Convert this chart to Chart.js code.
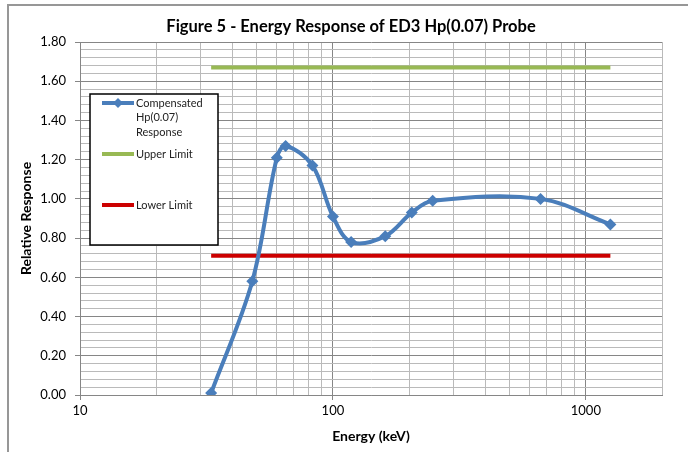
<!DOCTYPE html>
<html>
<head>
<meta charset="utf-8">
<script src="https://cdn.jsdelivr.net/npm/chart.js@4.4.1/dist/chart.umd.min.js"></script>
<style>
  html, body { margin: 0; padding: 0; background: #fff; }
  #wrap { position: relative; width: 688px; height: 452px; overflow: hidden; }
  #frame { position: absolute; left: 7px; top: 4px; width: 720px; height: 500px; border: 2px solid #979797; box-sizing: border-box; }
  #chart { position: absolute; left: 0; top: 0; }
</style>
</head>
<body>
<div id="wrap">
  <div id="frame"></div>
  <canvas id="chart" width="688" height="452"></canvas>
</div>
<script>
// data
const energies = [33, 48, 60, 65, 83, 100, 118, 161, 205, 248, 662, 1250];
const response = [0.01, 0.58, 1.21, 1.27, 1.17, 0.91, 0.78, 0.81, 0.93, 0.99, 1.00, 0.87];
const limitEnergies = [33, 1250];
const upperLimit = [1.67, 1.67];
const lowerLimit = [0.71, 0.71];

// axes
const xLabelled = [10, 100, 1000];
const xGridValues = [10, 20, 30, 40, 50, 60, 70, 80, 90, 100, 200, 300, 400, 500, 600, 700, 800, 900, 1000, 2000];
const yTickLabels = ["0.00", "0.20", "0.40", "0.60", "0.80", "1.00", "1.20", "1.40", "1.60", "1.80"];

const FONT = "Lato, 'Open Sans', sans-serif";
const MAJOR = "#868686";
const MINOR = "#bababa";

const toXY = (xs, ys) => xs.map((x, i) => ({ x, y: ys[i] }));

// y grid every 0.04, labels every 0.2
const yGrid = [];
for (let i = 0; i <= 45; i++) yGrid.push(Math.round(i * 4) / 100);
const isYMajor = (v) => Math.abs(v * 5 - Math.round(v * 5)) < 1e-6;

// title + legend box drawn on top
const overlay = {
  id: "overlay",
  afterDraw(chart) {
    const ctx = chart.ctx;
    ctx.save();
    ctx.fillStyle = "#000";
    ctx.font = "bold 16.5px " + FONT;
    ctx.textAlign = "center";
    ctx.textBaseline = "middle";
    ctx.fillText("Figure 5 - Energy Response of ED3 Hp(0.07) Probe", 351, 27);

    // legend
    ctx.fillStyle = "#fff";
    ctx.fillRect(90, 94, 128, 151);
    ctx.strokeStyle = "#000";
    ctx.lineWidth = 1.5;
    ctx.strokeRect(90, 94, 128, 151);

    const items = [
      { color: "#4a7ebb", lines: ["Compensated", "Hp(0.07)", "Response"], y: 103, marker: true },
      { color: "#98b954", lines: ["Upper Limit"], y: 154 },
      { color: "#cc0000", lines: ["Lower Limit"], y: 205 }
    ];
    ctx.font = "11px " + FONT;
    ctx.textAlign = "left";
    items.forEach((it) => {
      ctx.strokeStyle = it.color;
      ctx.lineWidth = 4;
      ctx.beginPath();
      ctx.moveTo(102, it.y);
      ctx.lineTo(134, it.y);
      ctx.stroke();
      if (it.marker) {
        ctx.fillStyle = it.color;
        ctx.beginPath();
        ctx.moveTo(118, it.y - 5);
        ctx.lineTo(123, it.y);
        ctx.lineTo(118, it.y + 5);
        ctx.lineTo(113, it.y);
        ctx.closePath();
        ctx.fill();
      }
      ctx.fillStyle = "#222";
      it.lines.forEach((t, k) => ctx.fillText(t, 136, it.y + k * 14.7));
    });
    ctx.restore();
  }
};

new Chart(document.getElementById("chart"), {
  type: "line",
  data: {
    datasets: [
      {
        label: "Compensated Hp(0.07) Response",
        data: toXY(energies, response),
        borderColor: "#4a7ebb",
        backgroundColor: "#4a7ebb",
        borderWidth: 4,
        tension: 0.35,
        pointStyle: "rectRot",
        pointRadius: 6,
        pointBorderWidth: 0,
        order: 0
      },
      {
        label: "Upper Limit",
        data: toXY(limitEnergies, upperLimit),
        borderColor: "#98b954",
        borderWidth: 4,
        pointRadius: 0,
        order: 1
      },
      {
        label: "Lower Limit",
        data: toXY(limitEnergies, lowerLimit),
        borderColor: "#cc0000",
        borderWidth: 4,
        pointRadius: 0,
        order: 2
      }
    ]
  },
  options: {
    responsive: false,
    animation: false,
    layout: { padding: { top: 42, right: 26, left: 0, bottom: 0 } },
    plugins: {
      legend: { display: false },
      title: { display: false },
      tooltip: { enabled: false }
    },
    scales: {
      x: {
        type: "logarithmic",
        min: 10,
        max: 2000,
        afterBuildTicks: (s) => { s.ticks = xGridValues.map((v) => ({ value: v })); },
        afterFit: (s) => { s.height = 57; },
        ticks: {
          autoSkip: false,
          maxRotation: 0,
          padding: 3,
          color: "#000",
          font: { family: FONT, size: 13 },
          callback: (v) => (xLabelled.includes(v) ? String(v) : "")
        },
        grid: {
          color: (c) => (xLabelled.includes(c.tick.value) ? MAJOR : MINOR),
          tickColor: (c) => (xLabelled.includes(c.tick.value) ? MAJOR : "rgba(0,0,0,0)"),
          tickLength: 5,
          lineWidth: 1
        },
        border: { color: MAJOR, width: 1 },
        title: {
          display: true,
          text: "Energy (keV)",
          color: "#000",
          font: { family: FONT, size: 14, weight: "bold" },
          padding: { top: 0, bottom: 7 }
        }
      },
      y: {
        min: 0,
        max: 1.8,
        afterBuildTicks: (s) => { s.ticks = yGrid.map((v) => ({ value: v })); },
        afterFit: (s) => { s.width = 80; },
        ticks: {
          autoSkip: false,
          padding: 9,
          color: "#000",
          font: { family: FONT, size: 13 },
          callback: (v) => (isYMajor(v) ? yTickLabels[Math.round(v * 5)] : "")
        },
        grid: {
          color: (c) => (isYMajor(c.tick.value) ? MAJOR : MINOR),
          tickColor: (c) => (isYMajor(c.tick.value) ? MAJOR : "rgba(0,0,0,0)"),
          tickLength: 5,
          lineWidth: 1
        },
        border: { color: MAJOR, width: 1 },
        title: {
          display: true,
          text: "Relative Response",
          color: "#000",
          font: { family: FONT, size: 14, weight: "bold" },
          padding: { top: 18, bottom: 0 }
        }
      }
    }
  },
  plugins: [overlay]
});
</script>
</body>
</html>
